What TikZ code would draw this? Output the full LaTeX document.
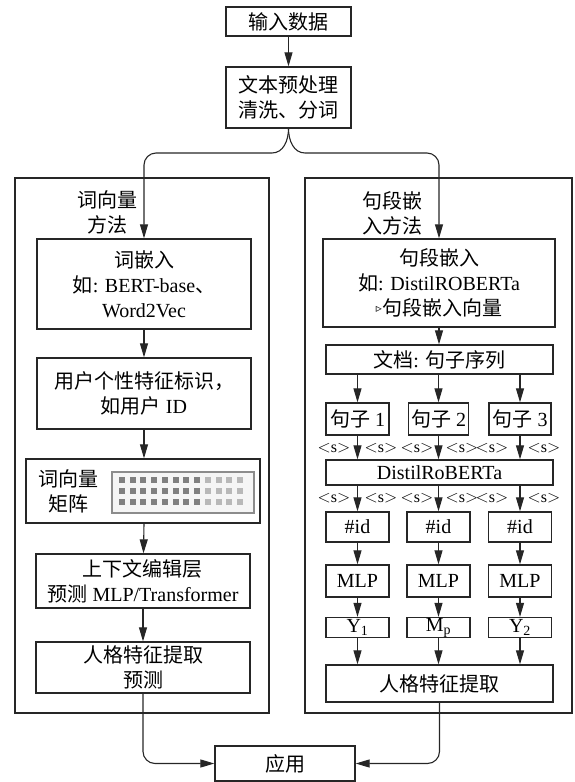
\documentclass[tikz,border=0pt]{standalone}
\usepackage{fontspec}
\setmainfont{Liberation Serif}
\newfontfamily\cjk{Noto Sans CJK SC}
\newfontfamily\dejavu{DejaVu Sans}
\usetikzlibrary{arrows.meta,calc}
\newcommand\zh[1]{{\cjk #1}}
\newcommand\stok{$<$s$>$}
\begin{document}
\begin{tikzpicture}[x=1pt,y=-1pt,
  box/.style={draw=black!85,line width=1.3pt,inner sep=0pt,align=center,font=\fontsize{20}{25}\selectfont},
  panel/.style={draw=black!85,line width=1.3pt,inner sep=0pt},
  arr/.style={draw=black!85,line width=1.1pt,-{Triangle[length=14pt,width=8pt]}},
  lbl/.style={inner sep=0pt,font=\fontsize{16}{18}\selectfont},
  ttl/.style={inner sep=0pt,align=center,font=\fontsize{20}{25}\selectfont}]
\useasboundingbox (0,0) rectangle (574,782);

% top
\node[box,minimum width=125pt,minimum height=29pt] (in) at (288.5,21.5) {\zh{输入数据}};
\node[box,minimum width=125pt,minimum height=61pt] (pre) at (288.5,97.5) {\zh{文本预处理}\\\zh{清洗、分词}};
\draw[arr] (in) -- (pre);

% panels
\node[panel,minimum width=254pt,minimum height=535pt] (lpanel) at (142,445.5) {};
\node[panel,minimum width=267pt,minimum height=535pt] (rpanel) at (438.5,445.5) {};
\node[ttl] (ltitle) at (107,212) {\zh{词向量}\\\zh{方法}};
\node[ttl] (rtitle) at (392,213) {\zh{句段嵌}\\\zh{入方法}};

% left column
\node[box,minimum width=214pt,minimum height=90pt] (le) at (144,284) {\zh{词嵌入}\\\zh{如}: BERT-base\zh{、}\\Word2Vec};
\node[box,minimum width=214pt,minimum height=71pt] (lu) at (144,393.5) {\zh{用户个性特征标识，}\\\zh{如用户} ID};
\node[box,minimum width=234pt,minimum height=64pt] (lm) at (143,491) {};
\node[ttl] (lmt) at (68,491) {\zh{词向量}\\\zh{矩阵}};
\node[draw=black!45,line width=1.2pt,fill=black!4,inner sep=0pt,minimum width=142pt,minimum height=41pt] (mat) at (183,492.5) {};
\foreach \c in {0,...,11}{
  \pgfmathsetmacro{\xx}{122+10.73*\c}
  \ifnum\c<8 \def\sq{black!50}\else\def\sq{black!28}\fi
  \foreach \r in {0,1,2}{
    \fill[\sq] ({\xx-3},{480+11*\r-3}) rectangle ++(6,6);
  }
}
\node[box,minimum width=214pt,minimum height=54pt] (lc) at (143,581) {\zh{上下文编辑层}\\\zh{预测} MLP/Transformer};
\node[box,minimum width=214pt,minimum height=51pt] (lp) at (143,667.5) {\zh{人格特征提取}\\\zh{预测}};
\draw[arr] (le) -- (lu);
\draw[arr] (lu) -- (lu.south |- lm.north);
\draw[arr] (lu.south |- lm.south) -- (lc);
\draw[arr] (lc) -- (lp);

% right column
\node[box,minimum width=232pt,minimum height=88pt] (re) at (439,283) {\zh{句段嵌入}\\\zh{如}: DistilROBERTa\\{\dejavu\fontsize{12}{12}\selectfont\raisebox{3pt}{▹}}\zh{句段嵌入向量}};
\node[box,minimum width=227pt,minimum height=29pt] (rd) at (439.5,359.5) {\zh{文档}: \zh{句子序列}};
\draw[arr] (re) -- (re.south |- rd.north);
\node[box,minimum width=63pt,minimum height=32pt] (s1) at (357.5,419) {\zh{句子} 1};
\node[box,minimum width=60pt,minimum height=32pt] (s2) at (438.5,419) {\zh{句子} 2};
\node[box,minimum width=62pt,minimum height=32pt] (s3) at (520,419) {\zh{句子} 3};
\node[box,minimum width=227pt,minimum height=25pt] (rb) at (439.5,472.5) {DistilRoBERTa};
\foreach \i/\x in {1/357.5,2/438.5,3/520}{
  \node[box,minimum width=63pt,minimum height=30pt] (id\i) at (\x,527) {\#id};
  \node[box,minimum width=63pt,minimum height=32pt] (mlp\i) at (\x,581) {MLP};
  \draw[arr] (s\i |- rd.south) -- (s\i.north);
  \draw[arr] (s\i.south) -- (s\i |- rb.north);
  \draw[arr] (id\i |- rb.south) -- (id\i.north);
  \draw[arr] (id\i) -- (mlp\i);
}
\node[box,minimum width=63pt,minimum height=20pt] (y1) at (357.5,627.5) {Y\textsubscript{1}};
\node[box,minimum width=63pt,minimum height=20pt] (y2) at (438.5,627.5) {M\textsubscript{p}};
\node[box,minimum width=63pt,minimum height=20pt] (y3) at (520,627.5) {Y\textsubscript{2}};
\node[box,minimum width=227pt,minimum height=37pt] (pf) at (439.5,683.5) {\zh{人格特征提取}};
\foreach \i in {1,2,3}{
  \draw[arr] (mlp\i) -- (y\i);
  \draw[arr] (y\i.south) -- (y\i |- pf.north);
}
\foreach \n/\x in {a/334,b/381,c/417,d/462,e/492,f/544}{
  \node[lbl] (t1\n) at (\x,448) {\stok};
  \node[lbl] (t2\n) at (\x,498) {\stok};
}

% branch
\coordinate (hb) at (0,153);
\draw[arr] (pre.south) to[out=-90,in=0] (272,153) [rounded corners=12pt] -- (le.north |- hb) -- (le.north);
\draw[arr] (pre.south) to[out=-90,in=180] (305,153) [rounded corners=12pt] -- (re.north |- hb) -- (re.north);

% output
\node[box,minimum width=140pt,minimum height=35pt] (app) at (285,763.5) {\zh{应用}};
\draw[arr,rounded corners=12pt] (lp.south) |- (app.west);
\draw[arr,rounded corners=12pt] (pf.south) |- (app.east);
\end{tikzpicture}
\end{document}
